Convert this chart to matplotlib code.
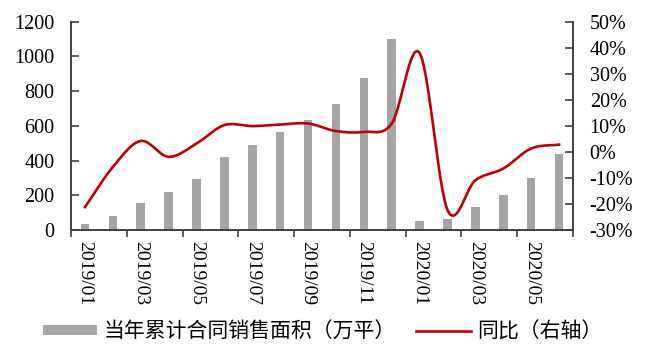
import matplotlib
matplotlib.use("Agg")
import matplotlib.pyplot as plt
import numpy as np
from matplotlib.patches import Patch
from matplotlib.lines import Line2D

months = ["2019/01", "2019/02", "2019/03", "2019/04", "2019/05", "2019/06",
          "2019/07", "2019/08", "2019/09", "2019/10", "2019/11", "2019/12",
          "2020/01", "2020/02", "2020/03", "2020/04", "2020/05", "2020/06"]
area = [37, 79, 154, 217, 292, 423, 489, 566, 633, 725, 875, 1099,
        50, 62, 135, 204, 297, 435]
yoy = [-21.2, -5.8, 4.2, -1.9, 3.2, 10.3, 9.9, 10.5, 10.9, 8.0, 7.7, 10.9,
       38.0, -22.3, -10.9, -6.4, 1.3, 2.8]
left_ticks = [0, 200, 400, 600, 800, 1000, 1200]
right_ticks = [-30, -20, -10, 0, 10, 20, 30, 40, 50]
bar_label = "当年累计合同销售面积（万平）"
line_label = "同比（右轴）"

serif = ["Liberation Serif", "DejaVu Serif"]
cjk = ["Noto Sans CJK SC", "DejaVu Sans"]


def catmull_rom(x, y, n=30):
    x = np.asarray(x, float)
    y = np.asarray(y, float)
    px = np.concatenate([[2 * x[0] - x[1]], x, [2 * x[-1] - x[-2]]])
    py = np.concatenate([[2 * y[0] - y[1]], y, [2 * y[-1] - y[-2]]])
    xs, ys = [], []
    for i in range(1, len(px) - 2):
        p0, p1, p2, p3 = (np.array([px[j], py[j]]) for j in (i - 1, i, i + 1, i + 2))
        c1 = p1 + (p2 - p0) / 6
        c2 = p2 - (p3 - p1) / 6
        t = np.linspace(0, 1, n)[:, None]
        pts = ((1 - t) ** 3) * p1 + 3 * ((1 - t) ** 2) * t * c1 + 3 * (1 - t) * t ** 2 * c2 + t ** 3 * p2
        xs.append(pts[:, 0])
        ys.append(pts[:, 1])
    return np.concatenate(xs), np.concatenate(ys)


fig = plt.figure(figsize=(6.49, 3.47), dpi=100)
ax = fig.add_axes([71 / 649, 1 - 230 / 347, (573 - 71) / 649, (230 - 21.7) / 347])
x = np.arange(len(months))
ax.bar(x, area, width=0.31, color="#A5A5A5", zorder=2)
ax.set_xlim(-0.5, len(months) - 0.5)
ax.set_ylim(0, 1200)
ax.set_yticks(left_ticks)
ax.set_yticklabels([str(v) for v in left_ticks], family=serif, fontsize=14.5)

ax.set_xticks(np.arange(-0.5, len(months), 2))
ax.set_xticklabels([])
ax.set_xticks(x[::2], minor=True)
ax.set_xticklabels(months[::2], minor=True, rotation=270, family=serif, fontsize=14)
ax.tick_params(axis="x", which="major", direction="out", length=5, width=1.2, color="#404040")
ax.tick_params(axis="x", which="minor", length=0, pad=8)
ax.tick_params(axis="y", direction="in", length=6, width=1.2, color="#404040", pad=12)

ax2 = ax.twinx()
sx, sy = catmull_rom(x, yoy)
ax2.plot(sx, sy, color="#C00000", lw=1.9, zorder=3)
ax2.set_ylim(-30, 50)
ax2.set_yticks(right_ticks)
ax2.set_yticklabels([f"{v}%" for v in right_ticks], family=serif, fontsize=14.5)
ax2.tick_params(axis="y", direction="in", length=6, width=1.2, color="#404040", pad=12)

for a in (ax, ax2):
    a.spines["top"].set_visible(False)
    for s in ("left", "right", "bottom"):
        a.spines[s].set_color("#404040")
        a.spines[s].set_linewidth(1.2)

handles = [Patch(facecolor="#A5A5A5", edgecolor="none"),
           Line2D([0], [0], color="#C00000", lw=1.9)]
leg = fig.legend(handles, [bar_label, line_label], loc="center", bbox_to_anchor=(0.497, 0.045),
                 ncol=2, frameon=False, prop={"family": cjk, "size": 15},
                 handlelength=2.6, handleheight=0.42, handletextpad=0.3, columnspacing=1.0)

fig.savefig("out.png", dpi=100)
